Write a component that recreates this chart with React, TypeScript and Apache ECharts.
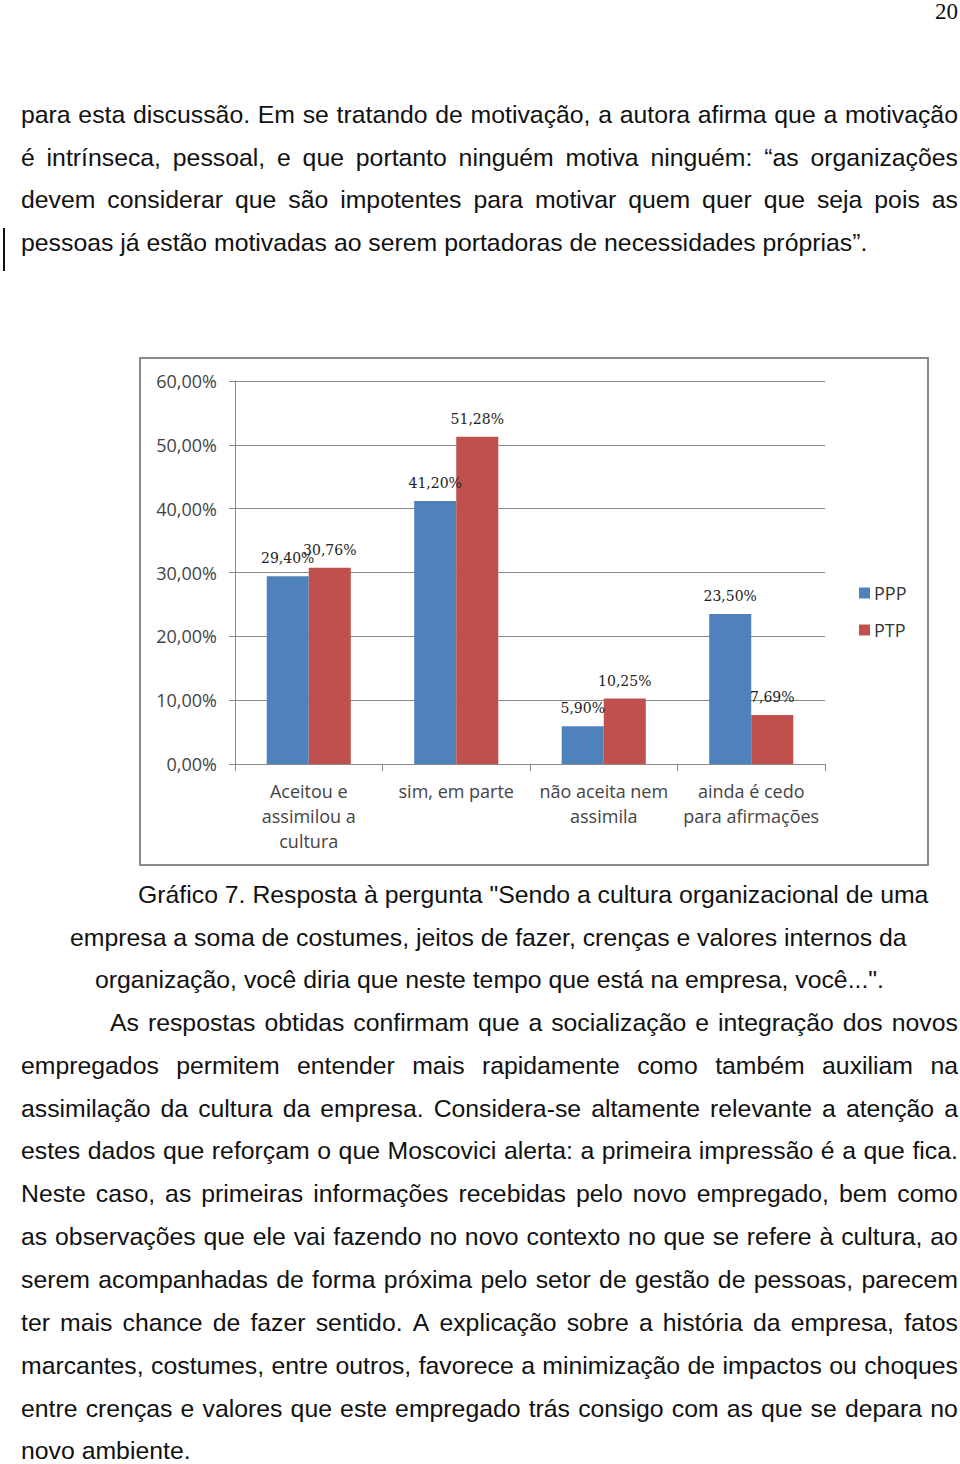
import React, { useEffect, useRef } from "react";
import * as echarts from "echarts";

const categories = ["Aceitou e\nassimilou a\ncultura", "sim, em parte", "não aceita nem\nassimila", "ainda é cedo\npara afirmações"];
const seriesNames = ["PPP", "PTP"];
const pppValues = [29.4, 41.2, 5.9, 23.5];
const ptpValues = [30.76, 51.28, 10.25, 7.69];
const yMin = 0;
const yMax = 60;
const yStep = 10;

const topParagraph = [
  "para esta discussão. Em se tratando de motivação, a autora afirma que a motivação",
  "é intrínseca, pessoal, e que portanto ninguém motiva ninguém: “as organizações",
  "devem considerar que são impotentes para motivar quem quer que seja pois as",
  "pessoas já estão motivadas ao serem portadoras de necessidades próprias”.",
];
const captionLines = [
  "Gráfico 7. Resposta à pergunta \"Sendo a cultura organizacional de uma",
  "empresa a soma de costumes, jeitos de fazer, crenças e valores internos da",
  "organização, você diria que neste tempo que está na empresa, você...\".",
];
const bottomParagraph = [
  "As respostas obtidas confirmam que a socialização e integração dos novos",
  "empregados permitem entender mais rapidamente como também auxiliam na",
  "assimilação da cultura da empresa. Considera-se altamente relevante a atenção a",
  "estes dados que reforçam o que Moscovici alerta: a primeira impressão é a que fica.",
  "Neste caso, as primeiras informações recebidas pelo novo empregado, bem como",
  "as observações que ele vai fazendo no novo contexto no que se refere à cultura, ao",
  "serem acompanhadas de forma próxima pelo setor de gestão de pessoas, parecem",
  "ter mais chance de fazer sentido. A explicação sobre a história da empresa, fatos",
  "marcantes, costumes, entre outros, favorece a minimização de impactos ou choques",
  "entre crenças e valores que este empregado trás consigo com as que se depara no",
  "novo ambiente.",
];

const FONT = "'Liberation Sans', Arial, sans-serif";
const FS = 24.8;

const fmt = (v: number) => v.toFixed(2).replace(".", ",") + "%";

function Line({ text, left, right, centerY, justify }: { text: string; left: number; right?: number; centerY: number; justify: boolean }) {
  const style: React.CSSProperties = {
    position: "absolute",
    left,
    top: centerY - 15.5,
    height: 30,
    lineHeight: "30px",
    fontFamily: FONT,
    fontSize: FS,
    color: "#111",
    whiteSpace: "nowrap",
  };
  if (justify && right !== undefined) {
    const words = text.split(" ");
    return (
      <div style={{ ...style, width: right - left, display: "flex", justifyContent: "space-between" }}>
        {words.map((w, i) => (
          <span key={i}>{w}</span>
        ))}
      </div>
    );
  }
  return <div style={style}>{text}</div>;
}

export default function App() {
  const ref = useRef<HTMLDivElement>(null);
  useEffect(() => {
    document.body.style.margin = "0";
    const chart = echarts.init(ref.current!, null, { renderer: "svg" });
    const labelStyle = {
      show: true,
      position: "top" as const,
      distance: 11,
      formatter: (p: any) => fmt(p.value),
      fontFamily: "'DejaVu Serif', serif",
      fontSize: 14,
      color: "#222",
    };
    chart.setOption({
      animation: false,
      backgroundColor: "#fff",
      graphic: [
        {
          type: "rect",
          shape: { x: 140, y: 358, width: 788, height: 507 },
          style: { fill: "none", stroke: "#8a8a8a", lineWidth: 2 },
          z: 0,
        },
      ],
      legend: {
        orient: "vertical",
        left: 854,
        top: 579,
        itemWidth: 11,
        itemHeight: 11,
        itemGap: 19,
        icon: "rect",
        data: seriesNames,
        textStyle: { fontFamily: "'Open Sans', sans-serif", fontSize: 18, color: "#333", padding: [0, 0, 0, -1] },
      },
      grid: { left: 235, top: 381, width: 590, height: 383, containLabel: false },
      xAxis: {
        type: "category",
        data: categories,
        axisLine: { show: true, lineStyle: { color: "#888", width: 1 } },
        axisTick: { show: true, length: 7, lineStyle: { color: "#888" } },
        axisLabel: {
          interval: 0,
          margin: 14,
          lineHeight: 25,
          fontFamily: "'Open Sans', sans-serif",
          fontSize: 18,
          color: "#444",
        },
      },
      yAxis: {
        type: "value",
        min: yMin,
        max: yMax,
        interval: yStep,
        axisLine: { show: true, lineStyle: { color: "#888", width: 1 } },
        axisTick: { show: true, length: 6, lineStyle: { color: "#888" } },
        splitLine: { show: true, lineStyle: { color: "#888", width: 1 } },
        axisLabel: {
          margin: 18,
          formatter: (v: number) => fmt(v),
          fontFamily: "'Open Sans', sans-serif",
          fontSize: 18,
          color: "#444",
        },
      },
      series: [
        {
          name: seriesNames[0],
          type: "bar",
          data: pppValues,
          barGap: "0%",
          barCategoryGap: "43%",
          itemStyle: { color: "#4F81BD" },
          label: labelStyle,
        },
        {
          name: seriesNames[1],
          type: "bar",
          data: ptpValues,
          itemStyle: { color: "#C0504D" },
          label: labelStyle,
        },
      ],
    });
    return () => chart.dispose();
  }, []);

  const topY = [115, 158, 200, 243];
  const capY = [895, 938, 980];
  const capX = [138, 70, 95];
  const botY = [1023, 1066, 1109, 1151, 1194, 1237, 1280, 1323, 1366, 1409, 1451];

  return (
    <div style={{ position: "relative", width: 960, height: 1464, overflow: "hidden", background: "#fff" }}>
      <div ref={ref} style={{ position: "absolute", left: 0, top: 0, width: 960, height: 1464 }} />
      <div
        style={{
          position: "absolute",
          right: 2,
          top: -1,
          fontFamily: "'Liberation Serif', 'Times New Roman', serif",
          fontSize: 23,
          lineHeight: "26px",
          color: "#111",
        }}
      >
        20
      </div>
      <div style={{ position: "absolute", left: 3, top: 228, width: 2, height: 43, background: "#111" }} />
      {topParagraph.map((t, i) => (
        <Line key={"t" + i} text={t} left={21} right={958} centerY={topY[i]} justify={i < topParagraph.length - 1} />
      ))}
      {captionLines.map((t, i) => (
        <Line key={"c" + i} text={t} left={capX[i]} centerY={capY[i]} justify={false} />
      ))}
      {bottomParagraph.map((t, i) => (
        <Line
          key={"b" + i}
          text={t}
          left={i === 0 ? 110 : 21}
          right={958}
          centerY={botY[i]}
          justify={i < bottomParagraph.length - 1}
        />
      ))}
    </div>
  );
}
